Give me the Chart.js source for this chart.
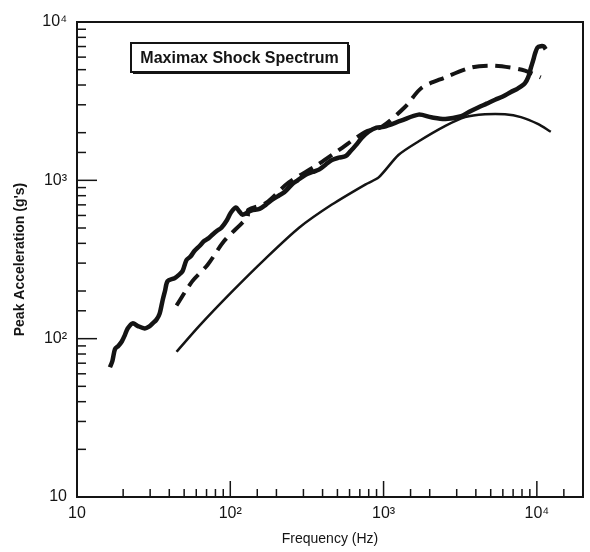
<!DOCTYPE html>
<html>
<head>
<meta charset="utf-8">
<script src="https://cdn.jsdelivr.net/npm/chart.js@4.4.1/dist/chart.umd.min.js"></script>
<style>
  html, body { margin: 0; padding: 0; background: #fff; }
  #wrap { width: 590px; height: 552px; }
</style>
</head>
<body>
<div id="wrap"><canvas id="myChart" width="590" height="552"></canvas></div>
<script>
// measured maximax spectrum (thick wavy line)
var measuredFreq = [16.4, 17.0, 17.7, 18.6, 19.6, 20.5, 21.4, 23.1, 25.0, 27.7, 29.5, 31.2, 33.0, 34.6, 36.2, 37.5, 39.0, 43.3, 46.0, 48.8,
  51.8, 55.0, 58.3, 63.0, 67.8, 72.0, 76.4, 82.0, 87.5, 95.0, 101, 109, 114, 120, 137, 155, 171, 190, 208, 225,
  253, 275, 312, 345, 379, 420, 460, 510, 567, 610, 658, 720, 799, 900, 1000, 1300, 1690, 2050, 2530, 3210,
  3600, 4140, 4700, 5336, 6000, 6775, 7500, 8356, 8800, 9150, 9500, 9710, 10100, 10600, 11100, 11430];
var measuredAccel = [66, 72, 86, 90, 96, 105, 116, 125, 120, 116, 119, 125, 132, 144, 175, 200, 231, 241, 252, 267,
  314, 330, 358, 385, 415, 430, 453, 480, 502, 560, 626, 673, 640, 607, 644, 660, 703, 760, 802, 840,
  944, 1000, 1089, 1130, 1168, 1260, 1345, 1390, 1423, 1530, 1663, 1850, 2028, 2150, 2175, 2380, 2600, 2500, 2440, 2540,
  2700, 2884, 3050, 3230, 3380, 3615, 3800, 4104, 4500, 5150, 5800, 6280, 6900, 7030, 7000, 6730];

// dashed envelope
var envelopeFreq = [44.6, 56.6, 71.0, 91.4, 120, 130, 131, 171, 241, 362, 510, 764, 970, 1390, 1766, 2530, 3726, 5020, 6775, 8356, 10600];
var envelopeAccel = [162, 231, 292, 415, 540, 590, 650, 720, 971, 1236, 1550, 2028, 2175, 2926, 3830, 4470, 5150, 5300, 5150, 4930, 4470];

// thin predicted curve
var predFreq = [44.6, 63, 103, 171, 281, 460, 764, 929, 1250, 1687, 2530, 3405, 4590, 6190, 7870, 10140, 12330];
var predAccel = [82.7, 121, 199, 323, 502, 703, 944, 1043, 1445, 1758, 2207, 2508, 2614, 2614, 2508, 2270, 2028];

var xMin = 10, xMax = 20000;
var yMin = 10, yMax = 10000;
var supers = {1: '', 2: '\u00b2', 3: '\u00b3', 4: '\u2074'};
var boxTitle = 'Maximax Shock Spectrum';
var ink = '#141414';

function pts(xs, ys) {
  return xs.map(function (x, i) { return {x: x, y: ys[i]}; });
}
function decadeLabel(v) {
  var l = Math.log10(v);
  if (Math.abs(l - Math.round(l)) > 1e-9) return '';
  return '10' + supers[Math.round(l)];
}

var innerTicks = {
  id: 'innerTicks',
  beforeDatasetsDraw: function (chart) {
    var c = chart.ctx, a = chart.chartArea;
    var xs = chart.scales.x, ys = chart.scales.y;
    c.save();
    c.strokeStyle = ink;
    c.lineWidth = 1.5;
    xs.ticks.forEach(function (t) {
      var px = xs.getPixelForValue(t.value);
      var major = decadeLabel(t.value) !== '';
      c.beginPath();
      c.moveTo(px, a.bottom);
      c.lineTo(px, a.bottom - (major ? 16 : 8));
      c.stroke();
    });
    ys.ticks.forEach(function (t) {
      var py = ys.getPixelForValue(t.value);
      var major = decadeLabel(t.value) !== '';
      c.beginPath();
      c.moveTo(a.left, py);
      c.lineTo(a.left + (major ? 20 : 9), py);
      c.stroke();
    });
    c.lineWidth = 2;
    c.strokeRect(a.left, a.top, a.right - a.left, a.bottom - a.top);
    c.restore();
  },
  afterDraw: function (chart) {
    var c = chart.ctx, a = chart.chartArea;
    var bx = a.left + 54, by = a.top + 21, bw = 217, bh = 29;
    c.save();
    c.fillStyle = ink;
    c.fillRect(bx + 2, by + 2, bw, bh);
    c.fillStyle = '#fff';
    c.fillRect(bx, by, bw, bh);
    c.strokeStyle = ink;
    c.lineWidth = 2;
    c.strokeRect(bx, by, bw, bh);
    c.fillStyle = ink;
    c.font = 'bold 16px "Liberation Sans", Arial, sans-serif';
    c.textAlign = 'center';
    c.textBaseline = 'middle';
    c.fillText(boxTitle, bx + bw / 2, by + bh / 2 + 1);
    c.restore();
  }
};

var ctx = document.getElementById('myChart').getContext('2d');
var chart = new Chart(ctx, {
  type: 'line',
  data: {
    datasets: [{
      label: 'Measured',
      data: pts(measuredFreq, measuredAccel),
      borderColor: ink,
      borderWidth: 4.5,
      tension: 0.3,
      pointRadius: 0
    }, {
      label: 'Envelope',
      data: pts(envelopeFreq, envelopeAccel),
      borderColor: ink,
      borderWidth: 4,
      borderDash: [15, 8],
      tension: 0.3,
      pointRadius: 0
    }, {
      label: 'Predicted',
      data: pts(predFreq, predAccel),
      borderColor: ink,
      borderWidth: 2.5,
      tension: 0.25,
      pointRadius: 0
    }]
  },
  options: {
    responsive: false,
    animation: false,
    layout: { padding: { top: 22, right: 5, left: 0, bottom: 0 } },
    plugins: { legend: { display: false }, tooltip: { enabled: false } },
    scales: {
      x: {
        type: 'logarithmic',
        min: xMin, max: xMax,
        grid: { display: false, drawTicks: false },
        border: { display: false },
        afterFit: function (s) { s.height = 55; },
        ticks: {
          autoSkip: false, maxRotation: 0, padding: 7,
          color: ink,
          font: { family: '"Liberation Sans", Arial, sans-serif', size: 16 },
          callback: function (v) { return decadeLabel(v); }
        },
        title: {
          display: true, text: 'Frequency (Hz)', color: ink,
          font: { family: '"Liberation Sans", Arial, sans-serif', size: 14 },
          padding: { top: 0, bottom: 4 }
        }
      },
      y: {
        type: 'logarithmic',
        min: yMin, max: yMax,
        grid: { display: false, drawTicks: false },
        border: { display: false },
        afterFit: function (s) { s.width = 77; },
        ticks: {
          autoSkip: false, padding: 10,
          color: ink,
          font: { family: '"Liberation Sans", Arial, sans-serif', size: 16 },
          callback: function (v) { return decadeLabel(v); }
        },
        title: {
          display: true, text: "Peak Acceleration (g's)", color: ink,
          font: { family: '"Liberation Sans", Arial, sans-serif', size: 14, weight: 'bold' },
          padding: { top: 12, bottom: 0 }
        }
      }
    }
  },
  plugins: [innerTicks]
});
</script>
</body>
</html>
